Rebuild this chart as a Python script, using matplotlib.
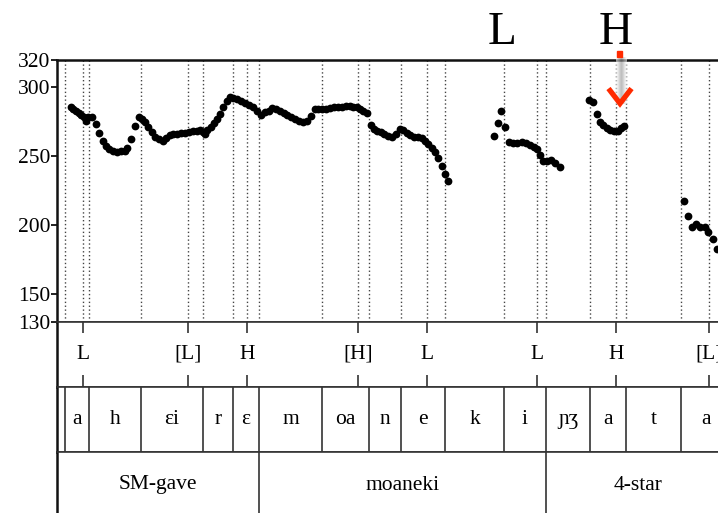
import matplotlib
matplotlib.use('Agg')
import matplotlib.pyplot as plt
import numpy as np
from matplotlib.patches import Rectangle
from matplotlib.lines import Line2D

plt.rcParams['font.family'] = ['Liberation Serif', 'DejaVu Serif']

# ---------------- data ----------------
pitch_t = [0.0274, 0.0326, 0.038, 0.0434, 0.0486, 0.054, 0.0574, 0.0626, 0.0694, 0.078,
           0.0846, 0.0914, 0.098, 0.1046, 0.1114, 0.1194, 0.1274, 0.1354, 0.1406, 0.1474,
           0.156, 0.164, 0.1706, 0.1766, 0.1826, 0.1894, 0.196, 0.204, 0.2114, 0.218,
           0.226, 0.2326, 0.2406, 0.2486, 0.2566, 0.2646, 0.2726, 0.2794, 0.286, 0.2914,
           0.2966, 0.3006, 0.3074, 0.314, 0.3206, 0.326, 0.3326, 0.3394, 0.346, 0.3526,
           0.3606, 0.3686, 0.3766, 0.3846, 0.3926, 0.4006, 0.4074, 0.416, 0.4246, 0.430,
           0.438, 0.446, 0.454, 0.4606, 0.4686, 0.4766, 0.4846, 0.4926, 0.5006, 0.5074,
           0.516, 0.5226, 0.5294, 0.538, 0.546, 0.554, 0.562, 0.570, 0.578, 0.586,
           0.5926, 0.5994, 0.606, 0.6126, 0.6206, 0.6274, 0.634, 0.6406, 0.6474, 0.654,
           0.662, 0.670, 0.678, 0.686, 0.6926, 0.6994, 0.706, 0.714, 0.722, 0.7294,
           0.736, 0.7426, 0.7494, 0.756, 0.7626, 0.7694, 0.776, 0.7826,
           0.874, 0.882, 0.8886, 0.8954, 0.9046, 0.9126, 0.9206, 0.9294, 0.938, 0.946,
           0.954, 0.9606, 0.966, 0.9726, 0.9806, 0.9886, 0.9966, 1.006,
           1.0646, 1.0726, 1.0794, 1.086, 1.0926, 1.0994, 1.106, 1.114, 1.122, 1.1274, 1.134,
           1.255, 1.2626, 1.2694, 1.278, 1.2866, 1.2954, 1.303, 1.3114, 1.3194]
pitch_hz = [285.5, 284.0, 283.0, 281.6, 279.7, 278.2, 275.8, 278.7, 278.7, 273.4,
            266.6, 261.3, 257.4, 255.0, 253.6, 252.8, 253.6, 253.6, 256.0, 262.3,
            271.9, 278.2, 276.8, 274.8, 271.4, 267.8, 264.2, 262.3, 261.3, 263.0,
            265.4, 265.9, 266.1, 266.6, 267.1, 267.6, 268.1, 268.5, 269.0, 267.8,
            266.1, 269.0, 271.4, 273.9, 276.8, 280.6, 285.9, 290.3, 292.7, 292.0,
            291.3, 290.3, 288.8, 287.4, 285.5, 283.0, 280.1, 282.3, 283.0, 285.0,
            284.0, 283.0, 281.6, 279.7, 278.2, 276.8, 275.8, 274.8, 275.3, 279.2,
            284.5, 284.0, 284.0, 284.5, 285.0, 285.5, 285.9, 285.9, 286.4, 286.4,
            285.9, 285.5, 284.0, 283.0, 281.6, 272.4, 269.5, 268.5, 267.6, 266.1,
            264.7, 263.7, 266.1, 269.5, 269.0, 267.1, 265.6, 264.2, 263.7, 263.0,
            261.3, 258.9, 256.0, 253.3, 248.5, 242.9, 237.1, 232.3,
            264.7, 273.9, 283.0, 271.0, 260.5, 259.4, 259.8, 260.5, 259.8, 258.4,
            256.9, 255.0, 250.9, 246.8, 246.3, 247.3, 244.9, 242.4,
            290.8, 289.5, 280.6, 275.0, 272.6, 270.3, 269.0, 268.5, 268.1, 270.3, 271.9,
            217.5, 207.0, 198.9, 200.5, 198.9, 198.5, 195.1, 189.8, 182.4]

seg_bounds = [0.0, 0.016, 0.064, 0.168, 0.292, 0.352, 0.404, 0.530, 0.624, 0.688,
              0.776, 0.894, 0.978, 1.066, 1.138, 1.248, 1.346]
seg_labels = ["", "a", "h", "ɛi", "r", "ɛ", "m", "oa", "n", "e", "k", "i",
              "ɲʒ", "a", "t", "a"]

word_bounds = [0.0, 0.404, 0.978, 1.346]
word_labels = ["SM-gave", "moaneki", "4-star"]

tone_times = [0.052, 0.262, 0.380, 0.602, 0.740, 0.960, 1.118, 1.304]
tone_labels = ["L", "[L]", "H", "[H]", "L", "L", "H", "[L]"]

yticks = [130, 150, 200, 250, 300, 320]
y_range = (130, 320)
t_range = (0.0, 1.346)

# ---------------- layout ----------------
W, H = 718, 513
fig = plt.figure(figsize=(W / 100, H / 100), dpi=100)

def fy(y):
    return 1 - y / H

x0 = 57 / W
wd = (730 - 57) / W
ax_p = fig.add_axes([x0, fy(321.7), wd, (321.7 - 59.7) / H])
ax_t = fig.add_axes([x0, fy(387), wd, (387 - 321.7) / H], sharex=ax_p)
ax_s = fig.add_axes([x0, fy(452), wd, (452 - 387) / H], sharex=ax_p)
ax_w = fig.add_axes([x0, fy(518), wd, (518 - 452) / H], sharex=ax_p)

line_c = '#333333'
for a in (ax_p, ax_t, ax_s, ax_w):
    a.set_xlim(*t_range)
    a.spines['right'].set_visible(False)
    for s in ('top', 'bottom'):
        a.spines[s].set_linewidth(1.2)
        a.spines[s].set_color(line_c)
    a.spines['left'].set_linewidth(1.8)
    a.spines['left'].set_color('#111111')
    a.tick_params(axis='x', bottom=False, labelbottom=False)

ax_p.spines['top'].set_linewidth(1.8)
ax_p.spines['top'].set_color('#111111')

# pitch panel
ax_p.set_ylim(*y_range)
ax_p.set_yticks(yticks)
ax_p.set_yticklabels([str(v) for v in yticks])
ax_p.tick_params(axis='y', direction='out', length=4, width=1.3, labelsize=15.5, pad=0.5,
                 color='#111111')
all_marks = sorted(set(seg_bounds[1:-1] + tone_times))
ax_p.vlines(all_marks, y_range[0], y_range[1], colors='#444444', linewidth=1.0,
            linestyles=(0, (1, 1.8)), zorder=1)
ax_p.plot(pitch_t, pitch_hz, 'o', color='black', markersize=5.6, markeredgewidth=0,
          zorder=3)

# tone tier
ax_t.set_ylim(0, 1)
ax_t.set_yticks([])
xt = ax_t.get_xaxis_transform()
ax_t.vlines(tone_times, 0.82, 1.0, colors=line_c, linewidth=1.2, transform=xt)
ax_t.vlines(tone_times, 0.0, 0.18, colors=line_c, linewidth=1.2, transform=xt)
for tt, lab in zip(tone_times, tone_labels):
    ax_t.text(tt, 0.5, lab, ha='center', va='center', fontsize=15.5)

# segment tier
ax_s.set_ylim(0, 1)
ax_s.set_yticks([])
ax_s.vlines(seg_bounds[1:-1], 0, 1, colors=line_c, linewidth=1.2)
for a0, a1, lab in zip(seg_bounds[:-1], seg_bounds[1:], seg_labels):
    ax_s.text((a0 + a1) / 2, 0.5, lab, ha='center', va='center', fontsize=15.5)

# word tier
ax_w.set_ylim(0, 1)
ax_w.set_yticks([])
ax_w.vlines(word_bounds[1:-1], 0, 1, colors=line_c, linewidth=1.2)
for a0, a1, lab in zip(word_bounds[:-1], word_bounds[1:], word_labels):
    ax_w.text((a0 + a1) / 2, 0.5, lab, ha='center', va='center', fontsize=15.5)

# big annotation letters
fig.text(502 / W, fy(43.5), 'L', ha='center', va='baseline', fontsize=34)
fig.text(616 / W, fy(43.5), 'H', ha='center', va='baseline', fontsize=34)

# arrow shaft (gray gradient) + red marks
ax_g = fig.add_axes([615.7 / W, fy(104), 11 / W, (104 - 57) / H])
grad = np.array([[0.05, 0.2, 0.35, 0.45, 0.5, 0.45, 0.35, 0.2, 0.05]])
ax_g.imshow(grad, aspect='auto', cmap='Greys', vmin=0, vmax=1, alpha=0.6,
            interpolation='bilinear', extent=(0, 1, 0, 1))
ax_g.axis('off')

red = '#ff2a00'
fig.patches.append(Rectangle((616.8 / W, fy(56.5)), 5 / W, 6 / H,
                             transform=fig.transFigure, color=red, zorder=5))
fig.lines.append(Line2D([608.5 / W, 620 / W, 631.5 / W], [fy(88.5), fy(103.5), fy(88.5)],
                        transform=fig.transFigure, color=red, linewidth=3.8,
                        solid_joinstyle='miter', solid_capstyle='butt', zorder=5))

fig.savefig('out.png', dpi=100)
